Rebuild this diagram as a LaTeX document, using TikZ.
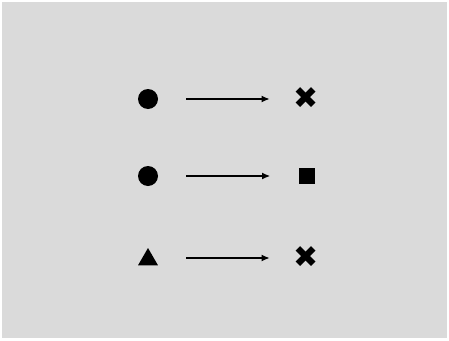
\documentclass[tikz,border=0pt]{standalone}
\usepackage{fontspec}
\newfontfamily\symfont{DejaVu Sans}
\usetikzlibrary{positioning,shapes.geometric,arrows.meta}
\definecolor{bggray}{RGB}{218,218,218}

\begin{document}
\begin{tikzpicture}[
    x=1pt, y=-1pt,
    % Define symbol styles
    dot/.style={circle, fill=black, inner sep=0pt, minimum size=20pt},
    tri/.style={regular polygon, regular polygon sides=3, fill=black, inner sep=0pt, minimum size=23pt},
    sq/.style={rectangle, fill=black, inner sep=0pt, minimum size=16pt},
    crs/.style={inner sep=0pt, font=\symfont\fontsize{30}{30}\selectfont},
    link/.style={-{Latex[length=8pt,width=7pt]}, line width=1.1pt, shorten <=38pt, shorten >=37pt}
]

% Background
\fill[white] (0,0) rectangle (449,340);
\fill[bggray] (2,2) rectangle (447,338);
\useasboundingbox (0,0) rectangle (449,340);

% Row 1
\node[dot] (a1) at (148,99) {};
\node[crs] (b1) at (306.5,98) {✖};
% Row 2
\node[dot] (a2) at (148,176) {};
\node[sq]  (b2) at (307,176) {};
% Row 3
\node[tri] (a3) at (148,259.5) {};
\node[crs] (b3) at (306.5,257) {✖};

% Arrows
\foreach \i/\y in {1/99,2/176,3/258} {
    \draw[link] (a\i.center |- 0,\y) -- (b\i.center |- 0,\y);
}

\end{tikzpicture}
\end{document}
